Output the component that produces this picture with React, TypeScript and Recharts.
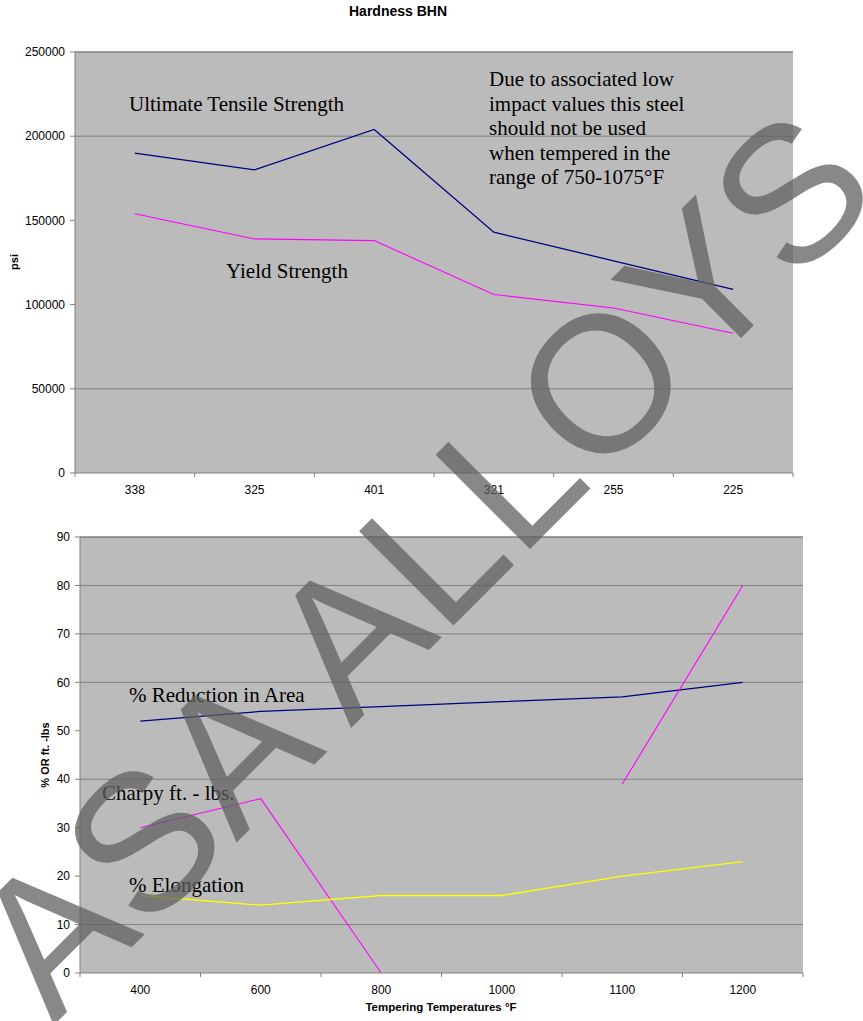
import React from 'react';
import {
  LineChart,
  Line,
  XAxis,
  YAxis,
  ReferenceLine,
  ReferenceArea,
  CartesianGrid,
} from 'recharts';

// ---------- Data: upper chart (strength vs hardness) ----------
const hardnessLabels = ['338', '325', '401', '321', '255', '225'];
const tensileValues = [190000, 180000, 204000, 143000, 126000, 109000];
const yieldValues = [154000, 139000, 138000, 106000, 98000, 83000];
const psiTicks = [0, 50000, 100000, 150000, 200000, 250000];
const psiGridValues = [50000, 200000];
const warningLine = { start: 3.5, end: 5.15, value: 50000 };

// ---------- Data: lower chart (ductility vs tempering temperature) ----------
const temperatureLabels = ['400', '600', '800', '1000', '1100', '1200'];
const reductionValues = [52, 54, 55, 56, 57, 60];
const charpyValues: (number | null)[] = [30, 36, 0, null, 39, 80];
const elongationValues = [16, 14, 16, 16, 20, 23];
const pctTicks = [0, 10, 20, 30, 40, 50, 60, 70, 80, 90];
const pctGridValues = [10, 40, 60, 70, 80];

const strengthData = hardnessLabels.map((h, i) => ({
  hardness: h,
  tensile: tensileValues[i],
  yieldStrength: yieldValues[i],
}));

const ductilityData = temperatureLabels.map((t, i) => ({
  temp: t,
  reduction: reductionValues[i],
  charpy: charpyValues[i],
  elongation: elongationValues[i],
}));

const SANS = '"Liberation Sans", Arial, Helvetica, sans-serif';
const SERIF = '"Liberation Serif", "Times New Roman", Times, serif';
const AXIS = '#808080';
const PLOT_BG = '#BBBBBB';
const NAVY = '#000080';
const MAGENTA = '#FF00FF';
const YELLOW = '#FFFF00';

const TICK_SIZE = 5;
const TICK_MARGIN = 7;

function CategoryTick(props: any) {
  const { x, y, payload, index, visibleTicksCount, width } = props;
  const count = visibleTicksCount || 6;
  const half =
    payload && typeof payload.offset === 'number' && payload.offset > 5
      ? payload.offset
      : width
      ? width / count / 2
      : 0;
  const axisY = y - TICK_SIZE - TICK_MARGIN;
  return (
    <g>
      <line x1={x - half} x2={x - half} y1={axisY} y2={axisY + 4} stroke={AXIS} />
      {index === count - 1 && (
        <line x1={x + half} x2={x + half} y1={axisY} y2={axisY + 4} stroke={AXIS} />
      )}
      <text
        x={x}
        y={y}
        dy="0.71em"
        textAnchor="middle"
        fontSize={12}
        fontFamily={SANS}
        fill="#000"
      >
        {payload.value}
      </text>
    </g>
  );
}

const yTick = { fill: '#000', fontSize: 12, fontFamily: SANS };

function PlotFrame({ yMax, grid }: { yMax: number; grid: number[] }) {
  return null;
}

function StrengthChart() {
  return (
    <LineChart
      width={863}
      height={520}
      data={strengthData}
      margin={{ top: 52, right: 70, bottom: 17, left: 0 }}
    >
      <CartesianGrid
        xAxisId="num"
        fill={PLOT_BG}
        fillOpacity={1}
        horizontal={false}
        vertical={false}
      />
      <XAxis xAxisId="num" type="number" domain={[0, 6]} hide allowDataOverflow />
      <XAxis
        xAxisId="cat"
        dataKey="hardness"
        type="category"
        scale="band"
        interval={0}
        height={30}
        stroke={AXIS}
        tickLine={false}
        tickSize={TICK_SIZE}
        tickMargin={TICK_MARGIN}
        tick={<CategoryTick />}
      />
      <YAxis
        type="number"
        domain={[0, 250000]}
        ticks={psiTicks}
        interval={0}
        width={75}
        stroke={AXIS}
        tickSize={5}
        tickMargin={5}
        tick={yTick}
      />
      <ReferenceArea
        xAxisId="num"
        y1={0}
        y2={250000}
        fill={PLOT_BG}
        fillOpacity={1}
        ifOverflow="visible"
      />
      {psiGridValues.map((v) => (
        <ReferenceLine key={v} xAxisId="num" y={v} stroke={AXIS} strokeWidth={1} />
      ))}
      <ReferenceLine xAxisId="num" y={250000} stroke={AXIS} strokeWidth={1.5} ifOverflow="visible" />
      <ReferenceLine xAxisId="num" x={6} stroke={AXIS} strokeWidth={1.5} ifOverflow="visible" />
      <ReferenceLine
        xAxisId="num"
        segment={[
          { x: warningLine.start, y: warningLine.value },
          { x: warningLine.end, y: warningLine.value },
        ]}
        stroke="#000"
        strokeWidth={1.2}
      />
      <Line
        xAxisId="cat"
        type="linear"
        dataKey="tensile"
        stroke={NAVY}
        strokeWidth={1.3}
        dot={false}
        activeDot={false}
        isAnimationActive={false}
      />
      <Line
        xAxisId="cat"
        type="linear"
        dataKey="yieldStrength"
        stroke={MAGENTA}
        strokeWidth={1.1}
        dot={false}
        activeDot={false}
        isAnimationActive={false}
      />
    </LineChart>
  );
}

function DuctilityChart() {
  return (
    <LineChart
      width={863}
      height={521}
      data={ductilityData}
      margin={{ top: 37, right: 60, bottom: 18, left: 0 }}
    >
      <CartesianGrid
        xAxisId="num"
        fill={PLOT_BG}
        fillOpacity={1}
        horizontal={false}
        vertical={false}
      />
      <XAxis xAxisId="num" type="number" domain={[0, 6]} hide allowDataOverflow />
      <XAxis
        xAxisId="cat"
        dataKey="temp"
        type="category"
        scale="band"
        interval={0}
        height={30}
        stroke={AXIS}
        tickLine={false}
        tickSize={TICK_SIZE}
        tickMargin={TICK_MARGIN}
        tick={<CategoryTick />}
      />
      <YAxis
        type="number"
        domain={[0, 90]}
        ticks={pctTicks}
        interval={0}
        width={80}
        stroke={AXIS}
        tickSize={5}
        tickMargin={5}
        tick={yTick}
      />
      <ReferenceArea
        xAxisId="num"
        y1={0}
        y2={90}
        fill={PLOT_BG}
        fillOpacity={1}
        ifOverflow="visible"
      />
      {pctGridValues.map((v) => (
        <ReferenceLine key={v} xAxisId="num" y={v} stroke={AXIS} strokeWidth={1} />
      ))}
      <ReferenceLine xAxisId="num" y={90} stroke={AXIS} strokeWidth={1.5} ifOverflow="visible" />
      <ReferenceLine xAxisId="num" x={6} stroke={AXIS} strokeWidth={1.5} ifOverflow="visible" />
      <Line
        xAxisId="cat"
        type="linear"
        dataKey="reduction"
        stroke={NAVY}
        strokeWidth={1.3}
        dot={false}
        activeDot={false}
        isAnimationActive={false}
      />
      <Line
        xAxisId="cat"
        type="linear"
        dataKey="charpy"
        stroke={MAGENTA}
        strokeWidth={1.1}
        dot={false}
        activeDot={false}
        connectNulls={false}
        isAnimationActive={false}
      />
      <Line
        xAxisId="cat"
        type="linear"
        dataKey="elongation"
        stroke={YELLOW}
        strokeWidth={1.3}
        dot={false}
        activeDot={false}
        isAnimationActive={false}
      />
    </LineChart>
  );
}

function Overlay() {
  const serif = { fontFamily: SERIF, fontSize: 21, fill: '#000' };
  const boldSans = { fontFamily: SANS, fontWeight: 700, fill: '#000' } as const;
  const noteLines = [
    'Due to associated low',
    'impact values this steel',
    'should not be used',
    'when tempered in the',
    'range of 750-1075°F',
  ];
  return (
    <svg
      width={863}
      height={1021}
      style={{ position: 'absolute', left: 0, top: 0, pointerEvents: 'none' }}
    >
      <text x={398} y={16} textAnchor="middle" fontSize={14} {...boldSans}>
        Hardness BHN
      </text>
      <text
        x={18}
        y={262}
        textAnchor="middle"
        fontSize={11}
        transform="rotate(-90 18 262)"
        {...boldSans}
      >
        psi
      </text>
      <text
        x={49}
        y={755}
        textAnchor="middle"
        fontSize={11}
        transform="rotate(-90 49 755)"
        {...boldSans}
      >
        % OR ft. -lbs
      </text>
      <text x={441} y={1011} textAnchor="middle" fontSize={11.5} {...boldSans}>
        Tempering Temperatures °F
      </text>

      <text x={129} y={111} {...serif}>Ultimate Tensile Strength</text>
      <text x={226} y={278} {...serif}>Yield Strength</text>
      {noteLines.map((l, i) => (
        <text key={l} x={489} y={86 + i * 24.6} {...serif}>
          {l}
        </text>
      ))}

      <text x={129} y={702} {...serif}>% Reduction in Area</text>
      <text x={102} y={800} {...serif}>Charpy ft. - lbs.</text>
      <text x={129} y={892} {...serif}>% Elongation</text>

      <text
        x={469}
        y={610}
        textAnchor="middle"
        fontSize={194}
        fontFamily={SANS}
        fill="rgba(96,96,96,0.75)"
        transform="rotate(-45 469 610)"
      >
        ASA ALLOYS
      </text>
    </svg>
  );
}

export default function App() {
  return (
    <div
      style={{
        position: 'absolute',
        left: 0,
        top: 0,
        width: 863,
        height: 1021,
        background: '#fff',
        overflow: 'hidden',
      }}
    >
      <div style={{ position: 'absolute', left: 0, top: 0 }}>
        <StrengthChart />
      </div>
      <div style={{ position: 'absolute', left: 0, top: 500 }}>
        <DuctilityChart />
      </div>
      <Overlay />
    </div>
  );
}
